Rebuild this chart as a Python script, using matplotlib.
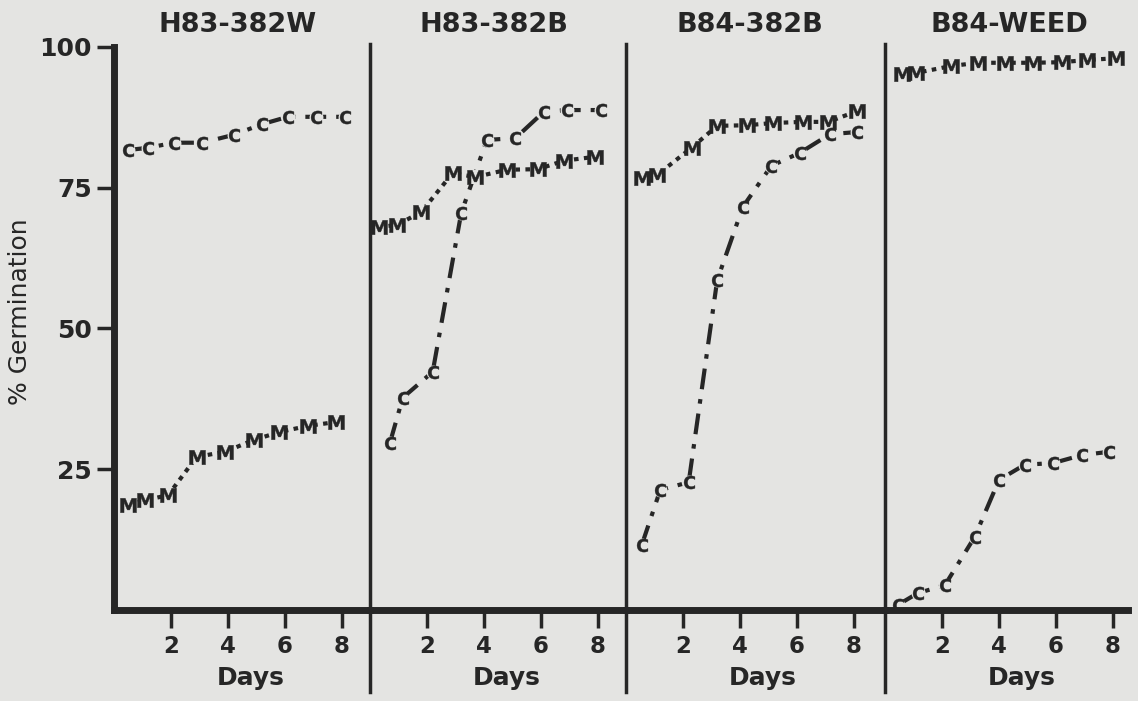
import matplotlib
matplotlib.use("Agg")  # sem interface gráfica, só salva o arquivo
import matplotlib.pyplot as plt
import matplotlib.transforms as mtransforms

plt.rcParams["font.family"] = ["DejaVu Sans"]

# Títulos dos painéis
paineis = ["H83-382W", "H83-382B", "B84-382B", "B84-WEED"]

# Eixos
dias_ticks = [2, 4, 6, 8]
pct_ticks = [25, 50, 75, 100]

# Série "C" (traço-ponto) e série "M" (pontilhada)
# H83-382W
dias_c_1 = [0.5, 1.2, 2.1, 3.1, 4.2, 5.2, 6.1, 7.1, 8.1]
c_1 = [81.7, 82.1, 83.0, 83.0, 84.4, 86.3, 87.6, 87.6, 87.6]
dias_m_1 = [0.5, 1.1, 1.9, 2.9, 3.9, 4.9, 5.8, 6.8, 7.8]
m_1 = [18.7, 19.5, 20.4, 27.2, 28.1, 30.2, 31.6, 32.7, 33.4]

# H83-382B
dias_c_2 = [0.7, 1.15, 2.2, 3.2, 4.1, 5.1, 6.1, 6.9, 8.1]
c_2 = [29.7, 37.7, 42.3, 70.5, 83.5, 83.8, 88.5, 88.8, 88.8]
dias_m_2 = [0.3, 0.95, 1.8, 2.9, 3.7, 4.8, 5.9, 6.8, 7.9]
m_2 = [68.0, 68.4, 70.7, 77.6, 76.9, 78.2, 78.3, 79.8, 80.5]

# B84-382B
dias_c_3 = [0.55, 1.2, 2.2, 3.2, 4.1, 5.1, 6.1, 7.15, 8.1]
c_3 = [11.5, 21.3, 22.7, 58.6, 71.6, 78.9, 81.2, 84.5, 84.9]
dias_m_3 = [0.55, 1.1, 2.3, 3.2, 4.25, 5.15, 6.2, 7.1, 8.1]
m_3 = [76.7, 77.3, 82.1, 86.0, 86.1, 86.5, 86.7, 86.7, 88.6]

# B84-WEED
dias_c_4 = [0.45, 1.15, 2.1, 3.15, 4.0, 4.9, 5.9, 6.9, 7.85]
c_4 = [0.9, 3.0, 4.4, 13.0, 23.1, 25.8, 26.1, 27.5, 28.1]
dias_m_4 = [0.6, 1.1, 2.3, 3.25, 4.2, 5.2, 6.2, 7.1, 8.1]
m_4 = [95.2, 95.4, 96.6, 97.2, 97.2, 97.2, 97.3, 97.7, 98.0]

series_c = [(dias_c_1, c_1), (dias_c_2, c_2), (dias_c_3, c_3), (dias_c_4, c_4)]
series_m = [(dias_m_1, m_1), (dias_m_2, m_2), (dias_m_3, m_3), (dias_m_4, m_4)]

# ==========================================================================
# Layout (em pixels da imagem de 1138x701)
# ==========================================================================
W, H = 1138, 701
bordas = [114, 370, 626, 885, 1138]
px_dia = 28.5
y_zero, y_cem = 610, 47
papel = "#e4e4e2"
tinta = "#262626"

fig = plt.figure(figsize=(W / 100, H / 100), dpi=100, facecolor=papel)

altura = y_zero - y_cem
for i, titulo in enumerate(paineis):
    largura = bordas[i + 1] - bordas[i]
    ax = fig.add_axes([bordas[i] / W, (H - y_zero) / H, largura / W, altura / H])
    ax.set_facecolor("none")
    ax.set_xlim(0, largura / px_dia)
    ax.set_ylim(0, 100)

    dias_m, m = series_m[i]
    dias_c, c = series_c[i]
    # linhas
    ax.plot(dias_m, m, color=tinta, lw=3, linestyle=(0, (1.1, 1.3)),
            clip_on=False, zorder=2)
    ax.plot(dias_c, c, color=tinta, lw=3, linestyle=(0, (5, 2.4, 1.1, 2.4)),
            clip_on=False, zorder=2)
    # letras nos pontos: primeiro um "fundo" cor de papel para abrir a linha
    for dias, vals, letra, fundo, tam, tam_fundo in [
            (dias_m, m, r"$\mathbf{M}$", "s", 11.5, 10),
            (dias_c, c, r"$\mathbf{C}$", "o", 9.5, 10)]:
        ax.plot(dias, vals, linestyle="none", marker=fundo, ms=tam_fundo,
                mew=0, mfc=papel, clip_on=False, zorder=2.5)
        ax.plot(dias, vals, linestyle="none", marker=letra, ms=tam, mew=0.3,
                mec=tinta, mfc=tinta, clip_on=False, zorder=3)

    for lado in ["top", "right", "left"]:
        ax.spines[lado].set_visible(False)
    ax.spines["bottom"].set_linewidth(5)
    ax.spines["bottom"].set_color(tinta)
    ax.spines["bottom"].set_capstyle("projecting")
    ax.spines["bottom"].set_zorder(4)
    if i == 3:
        ax.spines["bottom"].set_bounds(0, (1128 - bordas[i]) / px_dia)

    ax.set_xticks(dias_ticks)
    ax.set_xticklabels([str(d) for d in dias_ticks], fontweight="bold")
    ax.tick_params(axis="x", direction="out", length=13, width=2.5,
                   color=tinta, labelcolor=tinta, labelsize=16.5, pad=5)

    if i == 0:
        ax.spines["left"].set_visible(True)
        ax.spines["left"].set_linewidth(5)
        ax.spines["left"].set_color(tinta)
        ax.spines["left"].set_capstyle("projecting")
        ax.set_yticks(pct_ticks)
        ax.set_yticklabels([str(p) for p in pct_ticks], fontweight="bold")
        ax.tick_params(axis="y", direction="out", length=12, width=2.5,
                       color=tinta, labelcolor=tinta, labelsize=18, pad=4)
    else:
        ax.set_yticks([])
        # linha divisória entre os painéis
        ax.axvline(0, ymin=-(692 - y_zero) / altura, ymax=1.005, color=tinta,
                   lw=2.5, clip_on=False, zorder=4)

    trans = mtransforms.blended_transform_factory(ax.transData, ax.transAxes)
    ax.text(4.35, 1 + 22 / altura, titulo, transform=trans, ha="center",
            va="center", fontsize=19.5, fontweight="bold", color=tinta)
    ax.text(4.8, -(685 - y_zero) / altura, "Days", transform=trans,
            ha="center", va="baseline", fontsize=18, fontweight="bold",
            color=tinta)

fig.text(20 / W, 1 - 312 / H, "% Germination", rotation=90, ha="center",
         va="center", fontsize=18, color=tinta)

fig.savefig("out.png", dpi=100, facecolor=papel)
